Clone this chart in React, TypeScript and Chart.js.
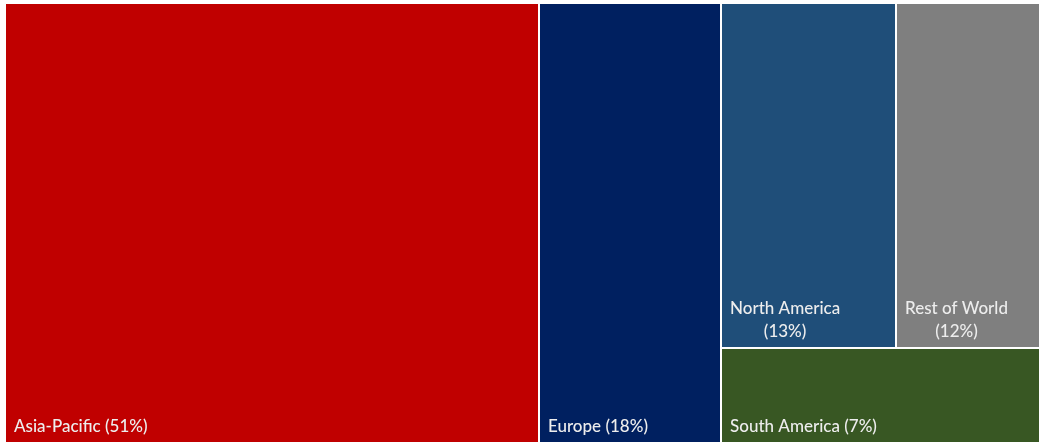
import React, { useEffect, useRef } from "react";
import { Chart, registerables } from "chart.js";

Chart.register(...registerables);

const regions = ["Asia-Pacific", "Europe", "North America", "Rest of World", "South America"];
const shares = [51.6, 17.6, 13.3, 10.9, 6.6];
const shareLabels = ["51%", "18%", "13%", "12%", "7%"];
const colors = ["#C00000", "#002060", "#1F4E79", "#7F7F7F", "#385723"];

type Node = number | { dir: "h" | "v"; children: Node[] };
// slice-and-dice structure: columns, then a stacked group (row on top, last item below)
const tree: Node = { dir: "h", children: [0, 1, { dir: "v", children: [{ dir: "h", children: [2, 3] }, 4] }] };

function total(n: Node): number {
  if (typeof n === "number") return shares[n];
  return n.children.reduce((s, c) => s + total(c), 0);
}

type Rect = { i: number; x0: number; x1: number; y0: number; y1: number };

function layout(n: Node, x0: number, y0: number, x1: number, y1: number, out: Rect[]) {
  if (typeof n === "number") {
    out.push({ i: n, x0, x1, y0, y1 });
    return;
  }
  const t = total(n);
  let pos = n.dir === "h" ? x0 : y0;
  const span = n.dir === "h" ? x1 - x0 : y1 - y0;
  n.children.forEach((c) => {
    const size = (total(c) / t) * span;
    if (n.dir === "h") layout(c, pos, y0, pos + size, y1, out);
    else layout(c, x0, pos, x1, pos + size, out);
    pos += size;
  });
}

const FONT = "500 17px Lato";

const treemapPlugin = {
  id: "treemapRects",
  afterDatasetsDraw(chart: any) {
    const { ctx, chartArea, scales } = chart;
    const xs = scales.x;
    const ys = scales.y;
    const rects: Rect[] = [];
    layout(tree, 0, 0, 100, 100, rects);
    ctx.save();
    rects.forEach((r) => {
      let px0 = xs.getPixelForValue(r.x0);
      let px1 = xs.getPixelForValue(r.x1);
      let py0 = ys.getPixelForValue(r.y0);
      let py1 = ys.getPixelForValue(r.y1);
      if (px0 > chartArea.left + 0.5) px0 += 1;
      if (px1 < chartArea.right - 0.5) px1 -= 1;
      if (py0 > chartArea.top + 0.5) py0 += 1;
      if (py1 < chartArea.bottom - 0.5) py1 -= 1;
      px0 = Math.round(px0); px1 = Math.round(px1); py0 = Math.round(py0); py1 = Math.round(py1);
      ctx.fillStyle = colors[r.i];
      ctx.fillRect(px0, py0, px1 - px0, py1 - py0);

      ctx.font = FONT;
      ctx.fillStyle = "#EDEDED";
      ctx.textBaseline = "alphabetic";
      const full = `${regions[r.i]} (${shareLabels[r.i]})`;
      const w = px1 - px0;
      const left = px0 + 8;
      const baseline = py1 - 10;
      if (ctx.measureText(full).width > w * 0.8) {
        const l1 = regions[r.i];
        const l2 = `(${shareLabels[r.i]})`;
        const w1 = ctx.measureText(l1).width;
        ctx.textAlign = "left";
        ctx.fillText(l1, left, baseline - 23);
        ctx.textAlign = "center";
        ctx.fillText(l2, left + w1 / 2, baseline);
      } else {
        ctx.textAlign = "left";
        ctx.fillText(full, left, baseline);
      }
    });
    ctx.restore();
  },
};

export default function App() {
  const ref = useRef<HTMLCanvasElement>(null);
  useEffect(() => {
    const chart = new Chart(ref.current!, {
      type: "scatter",
      data: { datasets: [{ data: [] }] },
      options: {
        animation: false,
        responsive: true,
        maintainAspectRatio: false,
        layout: { padding: { left: 6, top: 4, right: 0, bottom: 1 } },
        plugins: { legend: { display: false }, tooltip: { enabled: false } },
        scales: {
          x: { type: "linear", min: 0, max: 100, display: false },
          y: { type: "linear", min: 0, max: 100, reverse: true, display: false },
        },
      },
      plugins: [treemapPlugin],
    });
    return () => chart.destroy();
  }, []);
  return (
    <div style={{ position: "fixed", left: 0, top: 0, width: 1039, height: 443, background: "#fff" }}>
      <canvas ref={ref} />
    </div>
  );
}
